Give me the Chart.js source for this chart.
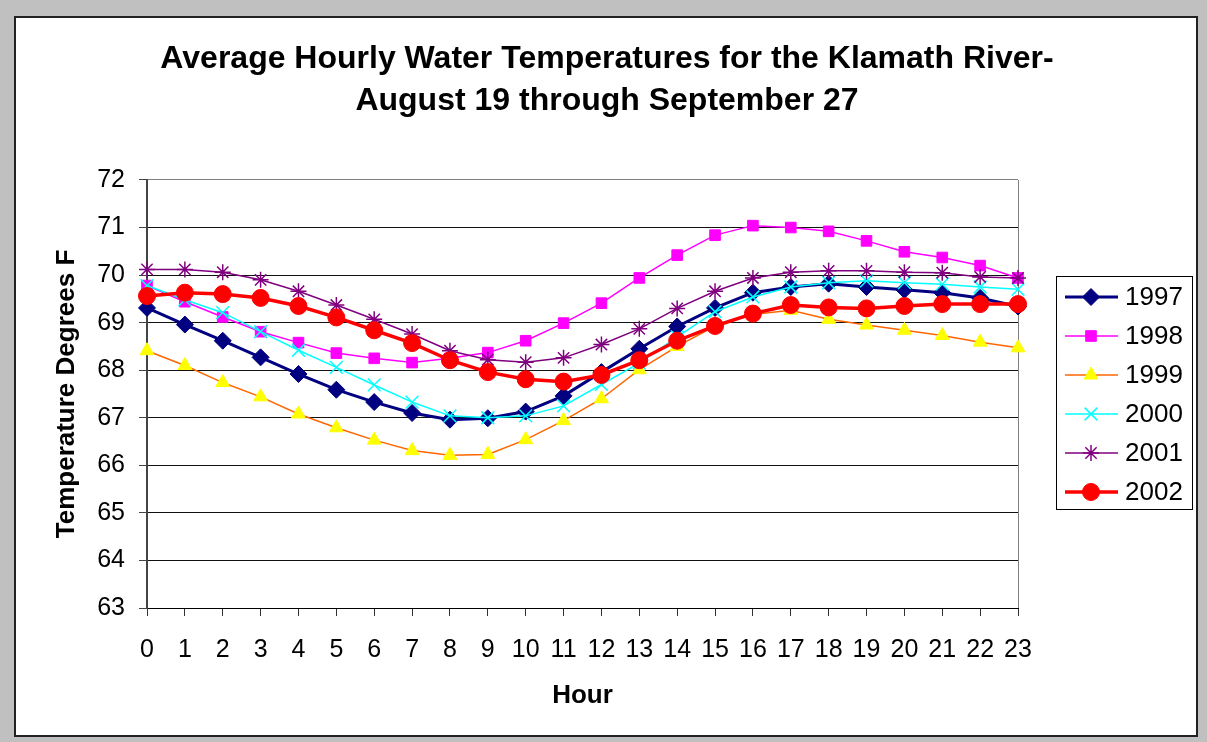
<!DOCTYPE html>
<html lang="en">
<head>
<meta charset="UTF-8">
<title>Average Hourly Water Temperatures - Klamath River</title>
<script src="https://cdn.jsdelivr.net/npm/chart.js"></script>
<style>
    html, body {
        margin: 0;
        padding: 0;
        background: #c0c0c0;
    }
    #wrap {
        width: 1207px;
        height: 742px;
    }
</style>
</head>
<body>
<div id="wrap"><canvas id="tempChart" width="1207" height="742"></canvas></div>
<script>
    const hours = ["0", "1", "2", "3", "4", "5", "6", "7", "8", "9", "10", "11",
        "12", "13", "14", "15", "16", "17", "18", "19", "20", "21", "22", "23"];

    const temps1997 = [69.31, 68.96, 68.62, 68.27, 67.92, 67.59, 67.33, 67.10, 66.96, 66.99, 67.13, 67.46,
        67.96, 68.45, 68.92, 69.31, 69.63, 69.75, 69.82, 69.75, 69.69, 69.63, 69.52, 69.34];
    const temps1998 = [69.78, 69.44, 69.12, 68.81, 68.58, 68.36, 68.25, 68.16, 68.25, 68.37, 68.62, 68.99,
        69.41, 69.94, 70.42, 70.84, 71.04, 71.00, 70.92, 70.72, 70.49, 70.37, 70.20, 69.94];
    const temps1999 = [68.41, 68.10, 67.74, 67.44, 67.08, 66.79, 66.53, 66.31, 66.21, 66.23, 66.54, 66.94,
        67.40, 68.01, 68.50, 68.93, 69.17, 69.26, 69.07, 68.95, 68.84, 68.73, 68.59, 68.47];
    const temps2000 = [69.78, 69.48, 69.21, 68.81, 68.42, 68.06, 67.69, 67.33, 67.04, 67.00, 67.04, 67.25,
        67.70, 68.15, 68.70, 69.23, 69.54, 69.75, 69.84, 69.88, 69.84, 69.81, 69.75, 69.70];
    const temps2001 = [70.12, 70.12, 70.06, 69.90, 69.66, 69.37, 69.07, 68.76, 68.41, 68.22, 68.17, 68.26,
        68.54, 68.87, 69.30, 69.66, 69.94, 70.06, 70.09, 70.09, 70.06, 70.05, 69.96, 69.94];
    const temps2002 = [69.56, 69.63, 69.60, 69.52, 69.35, 69.11, 68.84, 68.57, 68.21, 67.96, 67.81, 67.76,
        67.90, 68.21, 68.62, 68.93, 69.19, 69.37, 69.32, 69.30, 69.35, 69.39, 69.39, 69.39];

    const FONT = '"Liberation Sans", Arial, sans-serif';

    // grey page edge + white panel with dark frame
    const framePlugin = {
        id: 'frame',
        beforeDraw(chart) {
            const ctx = chart.ctx;
            ctx.save();
            ctx.fillStyle = '#c0c0c0';
            ctx.fillRect(0, 0, chart.width, chart.height);
            ctx.fillStyle = '#ffffff';
            ctx.fillRect(15, 17, 1182, 719);
            ctx.strokeStyle = '#222222';
            ctx.lineWidth = 2;
            ctx.strokeRect(15, 17, 1182, 719);
            ctx.restore();
        }
    };

    // boxed legend on the right, line + marker like the original
    const sideLegend = {
        id: 'sideLegend',
        afterDraw(chart) {
            const ctx = chart.ctx;
            ctx.save();
            ctx.strokeStyle = '#000';
            ctx.lineWidth = 1;
            ctx.strokeRect(1056.5, 276.5, 136, 233);
            chart.data.datasets.forEach((ds, i) => {
                const y = 297 + i * 39;
                ctx.strokeStyle = ds.borderColor;
                ctx.lineWidth = ds.borderWidth;
                ctx.beginPath();
                ctx.moveTo(1065, y);
                ctx.lineTo(1118, y);
                ctx.stroke();
                ctx.fillStyle = ds.pointBackgroundColor;
                ctx.strokeStyle = ds.pointBorderColor;
                ctx.lineWidth = ds.pointBorderWidth;
                Chart.helpers.drawPoint(ctx, {
                    pointStyle: ds.pointStyle,
                    radius: ds.pointRadius,
                    borderWidth: ds.pointBorderWidth,
                    rotation: 0
                }, 1091, y);
                ctx.fillStyle = '#000';
                ctx.font = '26px ' + FONT;
                ctx.textAlign = 'left';
                ctx.textBaseline = 'middle';
                ctx.fillText(ds.label, 1125, y + 1);
            });
            ctx.restore();
        }
    };

    const ctx = document.getElementById('tempChart').getContext('2d');
    const tempChart = new Chart(ctx, {
        type: 'line',
        data: {
            labels: hours,
            datasets: [{
                label: '1997',
                data: temps1997,
                borderColor: '#000080',
                borderWidth: 3,
                pointStyle: 'rectRot',
                pointRadius: 8.5,
                pointBackgroundColor: '#000080',
                pointBorderColor: '#000080',
                pointBorderWidth: 1,
                order: 6
            }, {
                label: '1998',
                data: temps1998,
                borderColor: '#ff00ff',
                borderWidth: 1.5,
                pointStyle: 'rect',
                pointRadius: 7.5,
                pointBackgroundColor: '#ff00ff',
                pointBorderColor: '#ff00ff',
                pointBorderWidth: 1,
                order: 5
            }, {
                label: '1999',
                data: temps1999,
                borderColor: '#ff6600',
                borderWidth: 1.5,
                pointStyle: 'triangle',
                pointRadius: 8,
                pointBackgroundColor: '#ffff00',
                pointBorderColor: '#ffff00',
                pointBorderWidth: 1,
                order: 4
            }, {
                label: '2000',
                data: temps2000,
                borderColor: '#00ffff',
                borderWidth: 1.5,
                pointStyle: 'crossRot',
                pointRadius: 9,
                pointBackgroundColor: '#00ffff',
                pointBorderColor: '#00ffff',
                pointBorderWidth: 1.5,
                order: 3
            }, {
                label: '2001',
                data: temps2001,
                borderColor: '#800080',
                borderWidth: 1.5,
                pointStyle: 'star',
                pointRadius: 8,
                pointBackgroundColor: '#800080',
                pointBorderColor: '#800080',
                pointBorderWidth: 1.5,
                order: 2
            }, {
                label: '2002',
                data: temps2002,
                borderColor: '#ff0000',
                borderWidth: 3.5,
                pointStyle: 'circle',
                pointRadius: 8.5,
                pointBackgroundColor: '#ff0000',
                pointBorderColor: '#ff0000',
                pointBorderWidth: 1,
                order: 1
            }]
        },
        options: {
            responsive: false,
            animation: false,
            events: [],
            layout: {
                padding: { left: 7, right: 0, top: 0, bottom: 0 }
            },
            elements: {
                line: { tension: 0 }
            },
            plugins: {
                legend: { display: false },
                tooltip: { enabled: false },
                title: {
                    display: true,
                    text: ['Average Hourly Water Temperatures for the Klamath River-',
                        'August 19 through September 27'],
                    color: '#000',
                    font: { family: FONT, size: 32, weight: 'bold', lineHeight: 1.32 },
                    padding: { top: 38, bottom: 57.5 }
                }
            },
            scales: {
                x: {
                    offset: false,
                    grid: {
                        color: (c) => c.index === hours.length - 1 ? '#808080' : 'rgba(0,0,0,0)',
                        tickColor: '#333',
                        tickLength: 8,
                        lineWidth: 1
                    },
                    border: { display: true, color: '#000', width: 1 },
                    ticks: {
                        color: '#000',
                        font: { family: FONT, size: 25 },
                        padding: 19,
                        maxRotation: 0,
                        autoSkip: false
                    },
                    title: {
                        display: true,
                        text: 'Hour',
                        color: '#000',
                        font: { family: FONT, size: 26, weight: 'bold' },
                        padding: { top: 0, bottom: 31 }
                    },
                    afterFit(scale) { scale.height = 134; }
                },
                y: {
                    min: 63,
                    max: 72,
                    grid: {
                        color: (c) => c.tick && c.tick.value === 72 ? '#808080' : '#111',
                        tickColor: '#444',
                        tickLength: 8,
                        lineWidth: 1
                    },
                    border: { display: true, color: '#444', width: 2 },
                    ticks: {
                        stepSize: 1,
                        color: '#000',
                        font: { family: FONT, size: 25 },
                        padding: 14
                    },
                    title: {
                        display: true,
                        text: 'Temperature Degrees F',
                        color: '#000',
                        font: { family: FONT, size: 26, weight: 'bold' },
                        padding: { top: 44, bottom: 0 }
                    },
                    afterFit(scale) { scale.width = 140; }
                },
                // empty right-hand strip that leaves room for the legend box
                yRoom: {
                    position: 'right',
                    min: 63,
                    max: 72,
                    grid: { display: false, drawTicks: false },
                    border: { display: false },
                    ticks: { display: false },
                    afterFit(scale) { scale.width = 189; }
                }
            }
        },
        plugins: [framePlugin, sideLegend]
    });
</script>
</body>
</html>
